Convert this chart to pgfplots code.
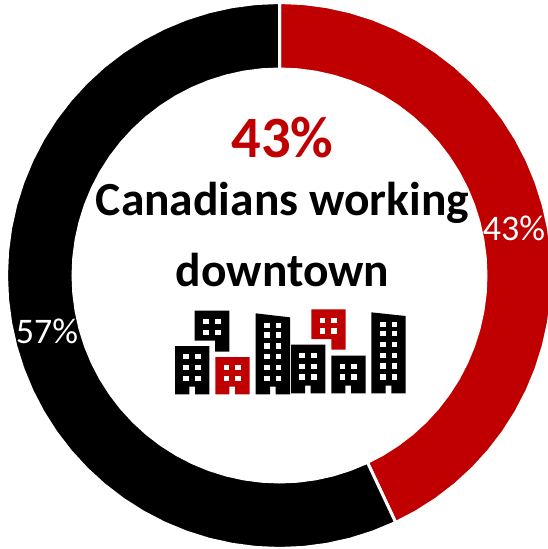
\documentclass[border=0pt]{standalone}
\usepackage{pgfplots}
\pgfplotsset{compat=1.18}
\usepackage{fontspec}
\setmainfont{Carlito}
\definecolor{cred}{RGB}{192,0,0}
\newcommand{\poly}[2]{\addplot[fill=#1,draw=none,forget plot] coordinates {#2} -- cycle;}
\newcommand{\win}[4]{\addplot[fill=white,draw=none,forget plot] coordinates {(#1,#3)(#2,#3)(#2,#4)(#1,#4)} -- cycle;}
\begin{document}
\begin{tikzpicture}
\path[use as bounding box] (0,0) rectangle (548pt,549pt);
\begin{axis}[at={(0,0)},anchor=south west,width=548pt,height=549pt,scale only axis,
  hide axis,xmin=-279.5,xmax=268.5,ymin=-273.5,ymax=275.5,clip=false]
\addplot[fill=cred,draw=white,line width=3pt,data cs=polar] coordinates {
(90,273)(85,273)(80,273)(75,273)(70,273)(65,273)(60,273)(55,273)(50,273)(45,273)(40,273)(35,273)(30,273)(25,273)(20,273)(15,273)(10,273)(5,273)(0,273)(-5,273)(-10,273)(-15,273)(-20,273)(-25,273)(-30,273)(-35,273)(-40,273)(-45,273)(-50,273)(-55,273)(-60,273)(-64.8,273)
(-64.8,206.5)(-60,206.5)(-55,206.5)(-50,206.5)(-45,206.5)(-40,206.5)(-35,206.5)(-30,206.5)(-25,206.5)(-20,206.5)(-15,206.5)(-10,206.5)(-5,206.5)(0,206.5)(5,206.5)(10,206.5)(15,206.5)(20,206.5)(25,206.5)(30,206.5)(35,206.5)(40,206.5)(45,206.5)(50,206.5)(55,206.5)(60,206.5)(65,206.5)(70,206.5)(75,206.5)(80,206.5)(85,206.5)(90,206.5)
} -- cycle;
\addplot[fill=black,draw=white,line width=3pt,data cs=polar] coordinates {
(-64.8,273)(-70,273)(-75,273)(-80,273)(-85,273)(-90,273)(-95,273)(-100,273)(-105,273)(-110,273)(-115,273)(-120,273)(-125,273)(-130,273)(-135,273)(-140,273)(-145,273)(-150,273)(-155,273)(-160,273)(-165,273)(-170,273)(-175,273)(-180,273)(-185,273)(-190,273)(-195,273)(-200,273)(-205,273)(-210,273)(-215,273)(-220,273)(-225,273)(-230,273)(-235,273)(-240,273)(-245,273)(-250,273)(-255,273)(-260,273)(-265,273)(-270,273)
(-270,206.5)(-265,206.5)(-260,206.5)(-255,206.5)(-250,206.5)(-245,206.5)(-240,206.5)(-235,206.5)(-230,206.5)(-225,206.5)(-220,206.5)(-215,206.5)(-210,206.5)(-205,206.5)(-200,206.5)(-195,206.5)(-190,206.5)(-185,206.5)(-180,206.5)(-175,206.5)(-170,206.5)(-165,206.5)(-160,206.5)(-155,206.5)(-150,206.5)(-145,206.5)(-140,206.5)(-135,206.5)(-130,206.5)(-125,206.5)(-120,206.5)(-115,206.5)(-110,206.5)(-105,206.5)(-100,206.5)(-95,206.5)(-90,206.5)(-85,206.5)(-80,206.5)(-75,206.5)(-70,206.5)(-64.8,206.5)
} -- cycle;
\end{axis}
\begin{axis}[at={(0,0)},anchor=south west,width=548pt,height=549pt,scale only axis,
  hide axis,xmin=-480,xmax=1164,ymin=-900,ymax=747,y dir=reverse,clip=false]
% B1
\poly{black}{(45,138)(148,138)(148,283)(105,283)(105,260)(88,260)(88,283)(45,283)}
\win{70}{88}{162}{178}\win{105}{123}{162}{178}
\win{70}{88}{194}{211}\win{105}{123}{194}{211}
\win{70}{88}{227}{243}\win{105}{123}{227}{243}
% B2
\poly{black}{(104,32)(208,32)(208,155)(165,155)(165,122)(104,122)}
\win{130}{147}{57}{73}\win{165}{182}{57}{73}
\win{130}{147}{90}{106}\win{165}{182}{90}{106}
% B3
\poly{cred}{(166,171)(269,171)(269,283)(225,283)(225,260)(208,260)(208,283)(166,283)}
\win{191}{208}{195}{211}\win{226}{243}{195}{211}
\win{191}{208}{228}{244}\win{226}{243}{228}{244}
% B4
\poly{black}{(287,40)(390,52)(390,283)(347,283)(347,260)(330,260)(330,283)(287,283)}
\win{312}{329}{68}{84}\win{347}{364}{68}{84}
\win{312}{329}{97}{113}\win{347}{364}{97}{113}
\win{312}{329}{130}{146}\win{347}{364}{130}{146}
\win{312}{329}{162}{178}\win{347}{364}{162}{178}
\win{312}{329}{194}{210}\win{347}{364}{194}{210}
\win{312}{329}{227}{243}\win{347}{364}{227}{243}
% B5
\poly{black}{(393,134)(496,134)(496,280)(452,280)(452,257)(435,257)(435,280)(393,280)}
\win{418}{435}{158}{174}\win{453}{470}{158}{174}
\win{418}{435}{191}{207}\win{453}{470}{191}{207}
\win{418}{435}{223}{239}\win{453}{470}{223}{239}
% B6
\poly{cred}{(454,28)(557,28)(557,149)(514,149)(514,117)(454,117)}
\win{479}{496}{53}{69}\win{514}{531}{53}{69}
\win{479}{496}{85}{101}\win{514}{531}{85}{101}
% B7
\poly{black}{(514,167)(617,167)(617,280)(573,280)(573,257)(556,257)(556,280)(514,280)}
\win{539}{556}{191}{207}\win{574}{591}{191}{207}
\win{539}{556}{223}{239}\win{574}{591}{223}{239}
% B8
\poly{black}{(634,37)(737,48)(737,280)(694,280)(694,257)(677,257)(677,280)(634,280)}
\win{660}{677}{65}{81}\win{695}{712}{65}{81}
\win{660}{677}{93}{109}\win{695}{712}{93}{109}
\win{660}{677}{125}{141}\win{695}{712}{125}{141}
\win{660}{677}{158}{174}\win{695}{712}{158}{174}
\win{660}{677}{190}{206}\win{695}{712}{190}{206}
\win{660}{677}{223}{239}\win{695}{712}{223}{239}
\end{axis}
\node[text=cred,font=\fontsize{58.5}{58.5}\selectfont\bfseries,anchor=center] at (282.5pt,411pt) {43\%};
\node[text=black,font=\fontsize{47.5}{47.5}\selectfont\bfseries,anchor=center] at (282.5pt,346pt) {Canadians working};
\node[text=black,font=\fontsize{47.5}{47.5}\selectfont\bfseries,anchor=center] at (282.5pt,279pt) {downtown};
\node[text=white,font=\fontsize{36}{36}\selectfont,anchor=center] at (514pt,321pt) {43\%};
\node[text=white,font=\fontsize{36}{36}\selectfont,anchor=center] at (47pt,218pt) {57\%};
\end{tikzpicture}
\end{document}
